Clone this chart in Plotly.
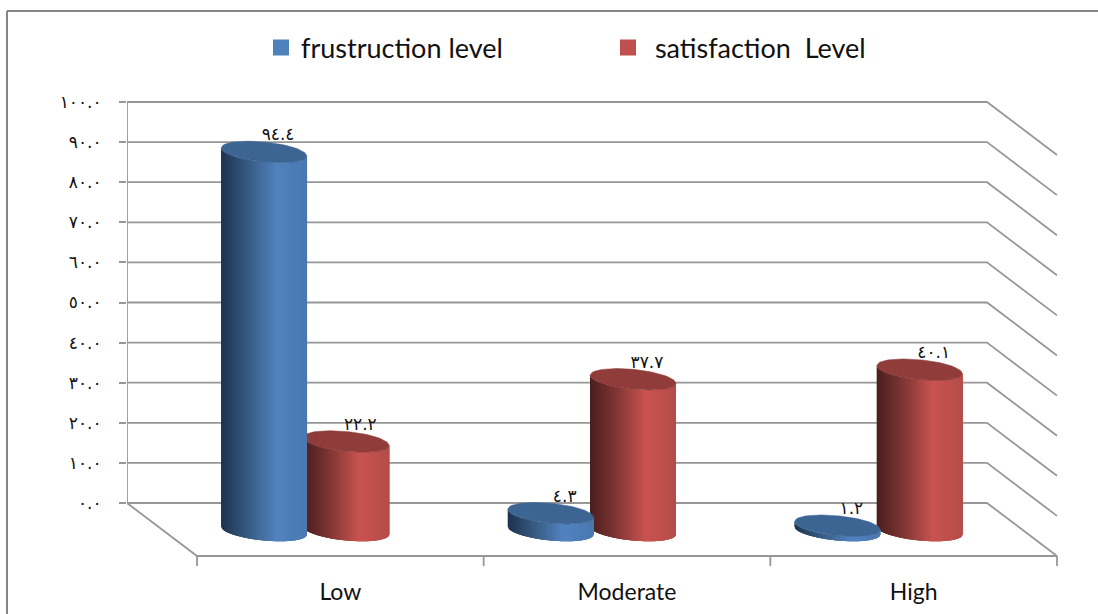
import plotly.graph_objects as go

# Chart data
categories = ["Low", "Moderate", "High"]
frustration = [94.4, 4.3, 1.2]
satisfaction = [22.2, 37.7, 40.1]
axis_ticks = [0, 10, 20, 30, 40, 50, 60, 70, 80, 90, 100]
series_names = ["frustruction level", " satisfaction  Level"]

# Page layout and projection of the pseudo-3D box, in screen pixels
W, H = 1098, 614
M_L, M_B = 127, 38
PX_PER_UNIT = 4.01
Y100, Y0 = 102, 503
WALL_L, WALL_R = 127, 987
DEPTH_X, DEPTH_Y = 70, 53
CAT_W = (WALL_R - WALL_L) / 3
CAT0 = WALL_L + DEPTH_X + CAT_W / 2
CYL_R = 43
CYL_A, CYL_B = 10, 4
BASE_PY = 530.5
OFFSETS = [-76.3, 6.0]
STRIPS = 86

GRID = "#979797"
AR_DIGITS = str.maketrans("0123456789", "٠١٢٣٤٥٦٧٨٩")


def ar(text):
    return str(text).translate(AR_DIGITS)


def dx(px):
    return (px - CAT0) / CAT_W


def dy(py):
    return 100 - (py - Y100) / PX_PER_UNIT


def lerp_hex(stops, t):
    for (t0, c0), (t1, c1) in zip(stops, stops[1:]):
        if t <= t1:
            k = (t - t0) / (t1 - t0)
            rgb = [
                round(int(c0[i:i + 2], 16) + k * (int(c1[i:i + 2], 16) - int(c0[i:i + 2], 16)))
                for i in (1, 3, 5)
            ]
            return "rgb({},{},{})".format(*rgb)
    return stops[-1][1]


BLUE_SIDE = [(0, "#1e3350"), (0.3, "#37597f"), (0.65, "#5183c0"), (1, "#4a78b0")]
RED_SIDE = [(0, "#4a1f1e"), (0.3, "#7e3533"), (0.65, "#c95350"), (1, "#b54c49")]
BLUE_TOP, RED_TOP = "#3d6594", "#8f3c3a"

fig = go.Figure()


def line_trace(xs, ys):
    fig.add_trace(go.Scatter(x=xs, y=ys, mode="lines", showlegend=False, hoverinfo="skip",
                             line=dict(color=GRID, width=1.8)))


# Back wall gridlines with their diagonal run along the side wall
xs, ys = [], []
for v in axis_ticks:
    wall_y = Y0 - v * PX_PER_UNIT
    xs += [dx(WALL_L), dx(WALL_R), dx(WALL_R + DEPTH_X), None]
    ys += [v, v, dy(wall_y + DEPTH_Y), None]
line_trace(xs, ys)

# Left wall edge, floor outline and category ticks
front = Y0 + DEPTH_Y
line_trace([dx(WALL_L), dx(WALL_L), dx(WALL_L + DEPTH_X), dx(WALL_R + DEPTH_X)],
           [axis_ticks[-1], 0, dy(front), dy(front)])
xs, ys = [], []
for i in range(len(categories) + 1):
    tick_x = WALL_L + DEPTH_X + i * CAT_W
    xs += [dx(tick_x), dx(tick_x), None]
    ys += [dy(front), dy(front + 10), None]
line_trace(xs, ys)


def cylinder(cat_index, offset, value, side, top):
    cx = CAT0 + cat_index * CAT_W + offset
    top_py = BASE_PY - value * PX_PER_UNIT

    def arc(u, sign=1):
        return sign * CYL_A * max(0.0, 1 - u * u) ** 0.5 + CYL_B * u

    # Curved side painted left to right; each band runs on under the next one
    # so no seams show between the shades
    for i in range(STRIPS):
        us = [-1 + 2 * k / STRIPS for k in range(i, min(i + 3, STRIPS) + 1)]
        col = lerp_hex(side, (i + 0.5) / STRIPS)
        px = [cx + CYL_R * u for u in us]
        upper = [dy(top_py + arc(u)) for u in us]
        lower = [dy(BASE_PY + arc(u)) for u in us]
        fig.add_trace(go.Scatter(
            x=[dx(p) for p in px] + [dx(p) for p in reversed(px)] + [dx(px[0])],
            y=upper + lower[::-1] + [upper[0]],
            mode="lines", fill="toself", fillcolor=col,
            line=dict(width=0),
            showlegend=False, hoverinfo="skip"))

    # Elliptical top cap
    n = 40
    us = [-1 + 2 * i / n for i in range(n + 1)]
    ex = [cx + CYL_R * u for u in us] + [cx + CYL_R * u for u in reversed(us)]
    ey = [top_py + arc(u, -1) for u in us] + [top_py + arc(u, 1) for u in reversed(us)]
    fig.add_trace(go.Scatter(x=[dx(p) for p in ex], y=[dy(p) for p in ey],
                             mode="lines", fill="toself", fillcolor=top,
                             line=dict(color=top, width=0.5),
                             showlegend=False, hoverinfo="skip"))


# The red column sits behind the blue one in each group
for i in range(len(categories)):
    cylinder(i, OFFSETS[1], satisfaction[i], RED_SIDE, RED_TOP)
    cylinder(i, OFFSETS[0], frustration[i], BLUE_SIDE, BLUE_TOP)

# Value labels above each column
lab_x, lab_y, lab_t = [], [], []
for values, offset in ((frustration, OFFSETS[0]), (satisfaction, OFFSETS[1])):
    for i, v in enumerate(values):
        lab_x.append(dx(CAT0 + i * CAT_W + offset + 14))
        lab_y.append(dy(BASE_PY - v * PX_PER_UNIT - 16))
        lab_t.append(ar(f"{v:.1f}"))
fig.add_trace(go.Scatter(x=lab_x, y=lab_y, text=lab_t, mode="text", textposition="middle center",
                         textfont=dict(family="DejaVu Sans", size=17, color="#111111"),
                         showlegend=False, hoverinfo="skip"))

# Legend entries
for name, colour in zip(series_names, ("#4f81bd", "#c0504d")):
    fig.add_trace(go.Scatter(x=[None], y=[None], name=name, mode="markers",
                             marker=dict(symbol="square", size=16, color=colour)))

plot_w, plot_h = W - M_L, H - M_B


def px_x(px):
    return (px - M_L) / plot_w


def px_y(py):
    return 1 - py / plot_h


fig.update_layout(
    width=W, height=H,
    margin=dict(l=M_L, r=0, t=0, b=M_B, pad=0),
    paper_bgcolor="white", plot_bgcolor="white",
    font=dict(family="Lato", color="#111111"),
    showlegend=True,
    legend=dict(orientation="h", x=px_x(261), xanchor="left", y=px_y(48), yanchor="middle",
                font=dict(family="Lato", size=27, color="#111111"),
                entrywidth=302, entrywidthmode="pixels", itemclick=False, itemdoubleclick=False,
                bgcolor="rgba(0,0,0,0)"),
    xaxis=dict(range=[dx(M_L), dx(W)], tickmode="array", tickvals=list(range(len(categories))),
               ticktext=categories, showgrid=False, zeroline=False, showline=False, ticks="",
               tickfont=dict(family="Lato", size=23, color="#111111"), ticklabelstandoff=0),
    yaxis=dict(range=[dy(plot_h), dy(0)], tickmode="array", tickvals=axis_ticks,
               ticktext=[ar(f"{v:.1f}") for v in axis_ticks],
               showgrid=False, zeroline=False, showline=False,
               ticks="outside", ticklen=7, tickwidth=1.8, tickcolor=GRID,
               tickfont=dict(family="DejaVu Sans", size=17, color="#111111"),
               ticklabelstandoff=14),
    shapes=[
        dict(type="line", xref="paper", yref="paper", x0=px_x(7), x1=px_x(7), y0=px_y(11), y1=px_y(H),
             line=dict(color="#868686", width=2)),
        dict(type="line", xref="paper", yref="paper", x0=px_x(7), x1=px_x(W), y0=px_y(11), y1=px_y(11),
             line=dict(color="#868686", width=2)),
    ],
)

fig.write_html("out.html")
